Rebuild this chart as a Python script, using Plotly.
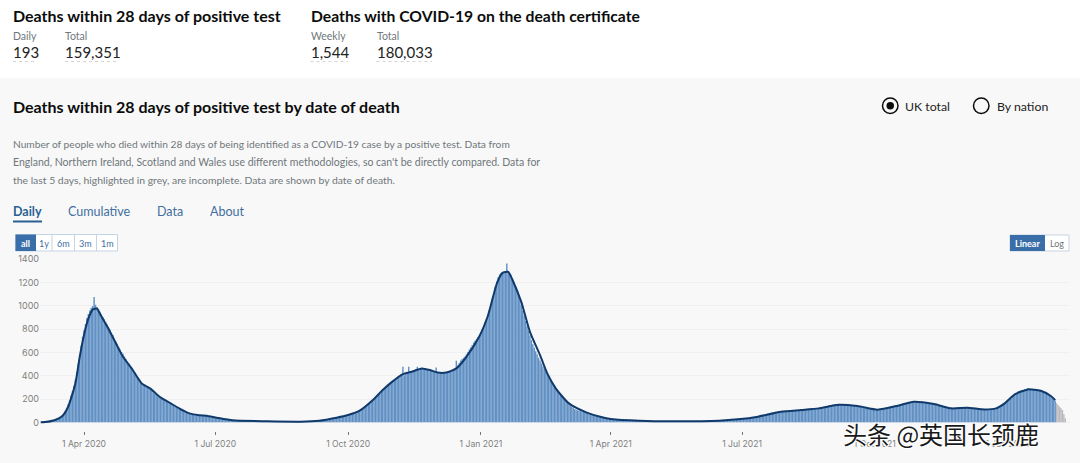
import pandas as pd
import plotly.graph_objects as go

WIDTH = 1080
HEIGHT = 463
FONT = "Lato"
TICK_FONT = "Inter"

# daily deaths, one value per day from 2 Mar 2020, one row per week
daily_deaths = [
    1, 1, 2, 2, 2, 3, 5,
    8, 10, 12, 20, 24, 33, 41,
    48, 62, 78, 95, 120, 155, 190,
    230, 270, 315, 365, 430, 505, 585,
    660, 735, 790, 845, 895, 930, 960,
    985, 1000, 1077, 1010, 990, 975, 950,
    925, 905, 885, 860, 840, 815, 795,
    770, 750, 720, 695, 675, 650, 625,
    605, 590, 565, 545, 520, 505, 480,
    465, 450, 430, 405, 385, 370, 345,
    335, 320, 325, 310, 300, 295, 285,
    270, 255, 245, 235, 225, 215, 205,
    200, 195, 185, 175, 170, 160, 155,
    150, 145, 135, 130, 125, 120, 112,
    105, 95, 90, 85, 78, 75, 70,
    68, 65, 62, 60, 60, 58, 58,
    58, 55, 56, 54, 50, 48, 45,
    44, 40, 38, 36, 34, 30, 28,
    28, 26, 24, 22, 22, 20, 18,
    17, 16, 16, 15, 14, 14, 13,
    13, 12, 12, 11, 11, 10, 10,
    10, 9, 9, 9, 8, 8, 8,
    9, 8, 8, 7, 8, 7, 7,
    7, 6, 7, 6, 6, 7, 6,
    6, 6, 7, 6, 7, 7, 7,
    6, 7, 6, 7, 6, 7, 7,
    8, 8, 9, 9, 10, 10, 11,
    11, 12, 13, 14, 15, 16, 17,
    19, 21, 23, 25, 27, 30, 33,
    36, 39, 41, 46, 44, 44, 46,
    50, 55, 58, 63, 67, 70, 76,
    82, 86, 92, 98, 104, 110, 118,
    127, 135, 144, 155, 165, 176, 190,
    200, 212, 225, 238, 250, 262, 277,
    288, 298, 312, 325, 335, 344, 352,
    358, 370, 380, 385, 398, 412, 477,
    405, 415, 428, 477, 430, 438, 445,
    450, 455, 478, 458, 460, 463, 462,
    460, 458, 452, 448, 445, 440, 435,
    432, 470, 425, 420, 425, 428, 426,
    428, 430, 435, 440, 445, 450, 455,
    460, 528, 490, 510, 530, 545, 555,
    565, 585, 605, 625, 645, 665, 685,
    700, 715, 730, 745, 770, 800, 830,
    860, 890, 925, 965, 1010, 1060, 1110,
    1165, 1210, 1245, 1270, 1280, 1290, 1295,
    1300, 1365, 1290, 1280, 1260, 1230, 1200,
    1170, 1135, 1095, 1055, 1005, 960, 915,
    870, 825, 785, 745, 705, 670, 640,
    610, 585, 555, 530, 505, 480, 455,
    435, 415, 395, 375, 355, 335, 315,
    290, 275, 255, 240, 225, 210, 195,
    180, 170, 155, 145, 135, 125, 115,
    108, 104, 100, 96, 92, 90, 86,
    82, 76, 70, 65, 60, 56, 52,
    50, 48, 46, 44, 42, 40, 38,
    35, 31, 29, 28, 27, 26, 25,
    24, 23, 22, 21, 20, 19, 18,
    18, 17, 16, 16, 15, 15, 14,
    14, 14, 13, 13, 12, 12, 11,
    11, 11, 10, 10, 10, 10, 9,
    9, 9, 9, 9, 9, 9, 9,
    9, 8, 8, 9, 9, 10, 9,
    9, 9, 10, 9, 10, 10, 10,
    10, 10, 11, 10, 11, 11, 11,
    12, 11, 12, 12, 13, 12, 13,
    13, 13, 13, 14, 13, 14, 14,
    14, 15, 15, 16, 16, 17, 17,
    18, 18, 19, 20, 20, 21, 22,
    24, 25, 27, 28, 30, 32, 34,
    36, 38, 40, 42, 44, 46, 48,
    50, 55, 58, 62, 66, 70, 74,
    78, 80, 84, 86, 88, 90, 88,
    92, 91, 93, 90, 94, 96, 98,
    98, 99, 100, 101, 100, 103, 104,
    105, 107, 110, 112, 113, 115, 116,
    116, 118, 119, 120, 118, 121, 122,
    123, 125, 128, 131, 134, 137, 141,
    144, 148, 149, 152, 150, 153, 151,
    150, 152, 148, 146, 150, 148, 144,
    147, 143, 142, 145, 141, 140, 138,
    134, 132, 130, 128, 122, 118, 116,
    114, 112, 114, 110, 112, 108, 109,
    110, 112, 118, 120, 124, 128, 132,
    134, 136, 138, 140, 142, 146, 143,
    148, 150, 154, 156, 158, 160, 163,
    166, 172, 175, 178, 180, 176, 175,
    172, 174, 170, 168, 165, 166, 160,
    162, 158, 157, 155, 156, 158, 150,
    146, 144, 140, 135, 132, 128, 125,
    122, 120, 118, 122, 119, 116, 124,
    122, 126, 123, 128, 126, 130, 125,
    122, 120, 124, 118, 114, 116, 112,
    115, 110, 112, 108, 111, 114, 112,
    115, 116, 118, 120, 124, 130, 138,
    146, 150, 160, 165, 175, 185, 200,
    210, 222, 232, 245, 252, 262, 268,
    272, 276, 278, 282, 284, 295, 283,
    286, 280, 284, 278, 282, 276, 272,
    275, 268, 262, 255, 248, 240, 232,
    225, 215, 200, 185, 165, 150, 135,
    120, 106, 70, 34,
]
incomplete_days = 7

# rolling average: days since 1 Apr 2020, deaths
avg_days = [
    -30, -27, -20, -15, -11, -6, -3, 0, 3, 6, 9, 11, 16, 21, 27, 33, 40, 46,
    53, 60, 66, 73, 80, 85, 92, 103, 127, 150, 163, 175, 183, 191, 200, 207,
    213, 221, 227, 234, 240, 245, 251, 258, 265, 274, 280, 286, 290, 294, 297,
    303, 309, 316, 321, 327, 336, 348, 359, 365, 385, 408, 440, 453, 467, 483,
    497, 509, 523, 536, 550, 564, 575, 589, 601, 612, 624, 632, 638, 645, 654,
    663, 670, 673,
]
avg_deaths = [
    0, 2, 20, 54, 134, 334, 560, 750, 890, 968, 977, 934, 825, 705, 563, 463,
    334, 290, 214, 163, 120, 77, 60, 57, 40, 17, 9, 6, 14, 40, 63, 100, 190,
    277, 343, 414, 434, 463, 448, 428, 428, 463, 563, 740, 920, 1190, 1283,
    1291, 1220, 1034, 777, 577, 420, 290, 163, 86, 43, 29, 14, 9, 14, 26, 49,
    91, 106, 120, 151, 140, 109, 143, 177, 157, 120, 126, 111, 120, 163, 240,
    283, 271, 226, 191,
]

start_date = pd.Timestamp("2020-03-02")
first_april = pd.Timestamp("2020-04-01")
dates = pd.date_range(start_date, periods=len(daily_deaths), freq="D")
avg_dates = [first_april + pd.Timedelta(days=d) for d in avg_days]

x_range = ["2020-03-01 12:00", "2022-02-13 06:00"]
y_ticks = [0, 200, 400, 600, 800, 1000, 1200, 1400]

range_buttons = ["all", "1y", "6m", "3m", "1m"]
tabs = ["Daily", "Cumulative", "Data", "About"]
description = [
    "Number of people who died within 28 days of being identified as a COVID-19 case by a positive test. Data from",
    "England, Northern Ireland, Scotland and Wales use different methodologies, so can't be directly compared. Data for",
    "the last 5 days, highlighted in grey, are incomplete. Data are shown by date of death.",
]

# slightly under 1 alpha so plotly rounds the thin bars instead of widening them
BAR_BLUE = "rgba(94,143,195,0.99)"
BAR_GREY = "rgba(185,185,189,0.99)"
LINE_BLUE = "#103a6b"
ACTIVE_BLUE = "#3a6ea8"
TEXT_DARK = "#0b0c0c"
TEXT_GREY = "#6f777b"
LINK_BLUE = "#3f6f9f"
BORDER = "#c5d3e2"


def fx(px):
    return px / WIDTH


def fy(py):
    return 1 - py / HEIGHT


annotations = []
shapes = []


def label(px, py, text, size, color=TEXT_DARK, bold=False, anchor="left", family=FONT):
    annotations.append(dict(
        x=fx(px), y=fy(py), xref="paper", yref="paper", text=text, showarrow=False,
        xanchor=anchor, yanchor="middle", borderpad=0, borderwidth=0,
        font=dict(family=family, size=size, color=color, weight=700 if bold else 400),
    ))


def rect(x0, y0, x1, y1, fill="rgba(0,0,0,0)", line=None, width=0, kind="rect", dash=None):
    shapes.append(dict(
        type=kind, xref="paper", yref="paper", layer="below",
        x0=fx(x0), x1=fx(x1), y0=fy(y0), y1=fy(y1), fillcolor=fill,
        line=dict(color=line, width=width, dash=dash),
    ))


def rule(x0, x1, py, color, width=1, dash=None):
    rect(x0, py, x1, py, line=color, width=width, kind="line", dash=dash)


# page background
rect(0, 78, WIDTH, HEIGHT, fill="#f8f8f8")

# headline figures
label(13, 15.5, "Deaths within 28 days of positive test", 16, bold=True)
label(310.5, 15.5, "Deaths with COVID-19 on the death certificate", 15.7, bold=True)
for px, head, value, end in [
    (13, "Daily", "193", 36),
    (65, "Total", "159,351", 118),
    (310.5, "Weekly", "1,544", 348),
    (376.5, "Total", "180,033", 432),
]:
    label(px, 36, head, 10.5, TEXT_GREY)
    label(px, 52, value, 15, "#222222")
    rule(px, end, 61.5, "#d5d5d5", dash="dot")

# card header
label(13, 106, "Deaths within 28 days of positive test by date of death", 16, bold=True)
for py, line, size in zip([144, 162, 180], description, [10.2, 10.5, 10.4]):
    label(13, py, line, size, TEXT_GREY)

# tabs
for px, name in zip([13, 68, 157, 210], tabs):
    label(px, 211, name, 12.5, LINK_BLUE if name != "Daily" else "#2b5f95", bold=name == "Daily")
rule(13, 42, 221.5, "#2b5f95", width=2)

# radios
rect(882.5, 98, 898, 113.5, line="#0b0c0c", width=1.5, kind="circle")
rect(886.5, 102, 894, 109.5, fill="#0b0c0c", kind="circle")
label(905, 106, "UK total", 12.3, "#222222")
rect(973.5, 98, 989, 113.5, line="#0b0c0c", width=1.5, kind="circle")
label(997, 106, "By nation", 12.3, "#222222")

# range selector and scale switch
rect(15.5, 234.5, 117.5, 251, fill="#ffffff", line=BORDER, width=1)
rect(15.5, 234.5, 36, 251, fill=ACTIVE_BLUE)
for px in [52, 74.5, 96.5]:
    shapes.append(dict(type="line", xref="paper", yref="paper", layer="below",
                       x0=fx(px), x1=fx(px), y0=fy(235), y1=fy(251),
                       line=dict(color=BORDER, width=1)))
for px, name in zip([25.7, 44, 63.2, 85.5, 107], range_buttons):
    label(px, 243, name, 9, "#ffffff" if name == "all" else LINK_BLUE, bold=name == "all", anchor="center")

rect(1010, 235, 1069, 251, fill="#ffffff", line=BORDER, width=1)
rect(1010, 235, 1045, 251, fill=ACTIVE_BLUE)
label(1027.5, 243, "Linear", 9, "#ffffff", bold=True, anchor="center")
label(1057, 243, "Log", 9, TEXT_GREY, anchor="center")

# watermark
annotations.append(dict(
    x=fx(841), y=fy(433), xref="paper", yref="paper", text="头条 @英国长颈鹿",
    showarrow=False, xanchor="left", yanchor="middle",
    font=dict(family="Noto Sans CJK SC", size=24, color="#1a1a1a",
              shadow="1px 1px 0 #fff, -1px -1px 0 #fff, 1px -1px 0 #fff, -1px 1px 0 #fff"),
))

colors = [BAR_BLUE] * (len(daily_deaths) - incomplete_days) + [BAR_GREY] * incomplete_days

fig = go.Figure()
fig.add_trace(go.Bar(x=dates, y=daily_deaths, marker=dict(color=colors, line_width=0), name="Daily"))
fig.add_trace(go.Scatter(
    x=avg_dates, y=avg_deaths, mode="lines", name="Rolling average",
    line=dict(color=LINE_BLUE, width=2, shape="spline", smoothing=0.6),
))

fig.update_layout(
    width=WIDTH,
    height=HEIGHT,
    autosize=False,
    margin=dict(l=0, r=0, t=0, b=0),
    paper_bgcolor="#ffffff",
    plot_bgcolor="rgba(0,0,0,0)",
    showlegend=False,
    bargap=0.015,
    shapes=shapes,
    annotations=annotations,
)
fig.update_xaxes(
    domain=[fx(40), fx(1070)],
    range=x_range,
    type="date",
    automargin=False,
    tick0="2020-04-01",
    dtick="M3",
    tickformat="%-d %b %Y",
    ticks="outside",
    ticklen=3,
    tickcolor="#777777",
    tickwidth=1,
    ticklabelstandoff=2,
    showgrid=False,
    showline=False,
    zeroline=False,
    tickfont=dict(family=TICK_FONT, size=8.6, color="#808080"),
)
fig.update_yaxes(
    domain=[fy(430.5), fy(259.3)],
    range=[-70, 1400],
    automargin=False,
    tickvals=y_ticks,
    gridcolor="#f0f0f0",
    gridwidth=1,
    zeroline=False,
    showline=False,
    ticks="",
    tickfont=dict(family=TICK_FONT, size=9, color="#808080"),
)

fig.write_html("out.html", config={"displayModeBar": False},
               post_script="document.body.style.margin='0';")
